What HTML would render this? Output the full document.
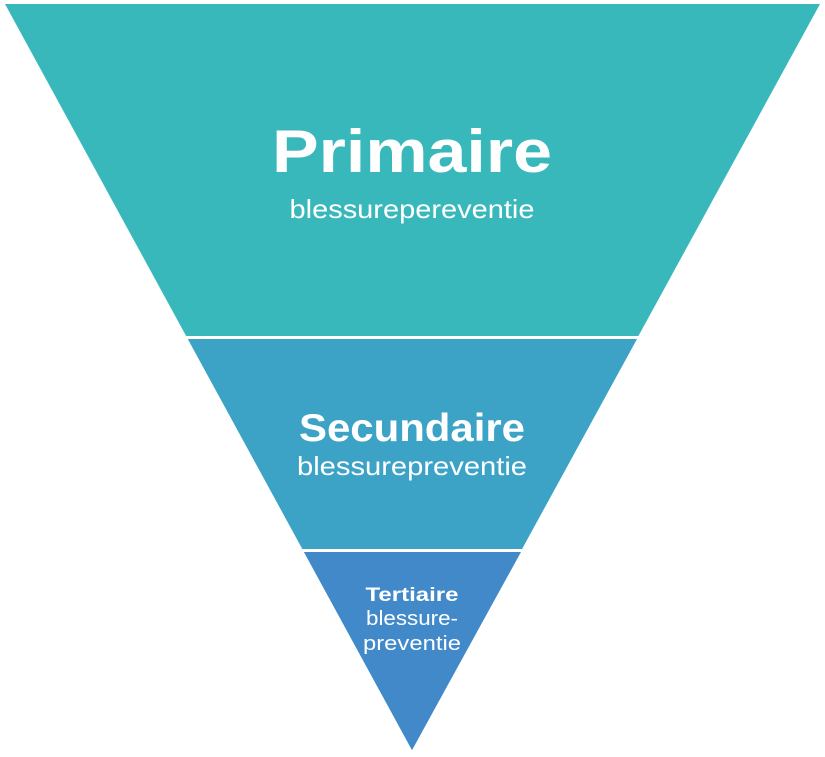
<!DOCTYPE html>
<html><head><meta charset="utf-8"><style>
html,body{margin:0;padding:0;background:#fff;}
svg{display:block;}
text{font-family:"Liberation Sans",sans-serif;fill:#fff;text-anchor:middle;}
</style></head><body>
<svg width="825" height="757" viewBox="0 0 825 757">
<polygon points="5,4 820,4 412,750" fill="#39b8bc"/>
<polygon points="188,339 637,339 412,750" fill="#3ca3c7"/>
<polygon points="304,552 521,552 412,750" fill="#4189c9"/>
<line x1="0" y1="337.5" x2="825" y2="337.5" stroke="#fff" stroke-width="3"/>
<line x1="0" y1="550.5" x2="825" y2="550.5" stroke="#fff" stroke-width="3"/>
<text x="412" y="172" font-size="60" font-weight="bold" textLength="280" lengthAdjust="spacingAndGlyphs">Primaire</text>
<text x="412" y="218" font-size="26" textLength="245" lengthAdjust="spacingAndGlyphs">blessurepereventie</text>
<text x="412" y="441" font-size="39" font-weight="bold" textLength="226" lengthAdjust="spacingAndGlyphs">Secundaire</text>
<text x="412" y="475" font-size="26" textLength="230" lengthAdjust="spacingAndGlyphs">blessurepreventie</text>
<text x="412" y="601" font-size="19" font-weight="bold" textLength="93" lengthAdjust="spacingAndGlyphs">Tertiaire</text>
<text x="412" y="625" font-size="20" textLength="92" lengthAdjust="spacingAndGlyphs">blessure-</text>
<text x="412" y="650" font-size="20" textLength="98" lengthAdjust="spacingAndGlyphs">preventie</text>
</svg>
</body></html>
